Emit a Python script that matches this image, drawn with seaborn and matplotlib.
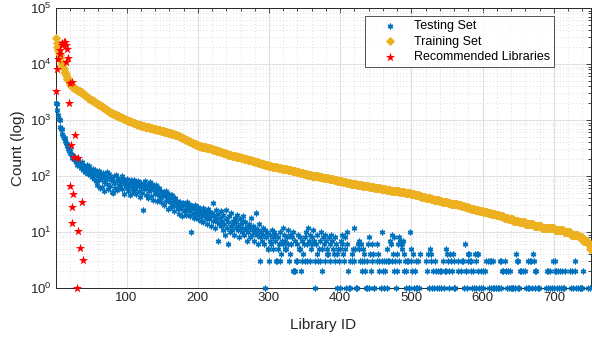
import numpy as np
import matplotlib
matplotlib.use("Agg")
import matplotlib.pyplot as plt
from matplotlib.ticker import MultipleLocator, LogLocator, NullFormatter, FixedLocator
import seaborn as sns

# Library usage counts, libraries sorted by training-set frequency (ID = rank)
train_count = [
    29500, 24000, 20000, 17800, 16000, 14500, 13000, 11500, 10300, 9500,
    8800, 8000, 7300, 6800, 6300, 5900, 5500, 5200, 4900, 4650,
    4450, 4250, 4100, 3950, 3850, 3760, 3680, 3600, 3520, 3450,
    3390, 3340, 3290, 3240, 3190, 3140, 3100,
    3030, 2960, 2890, 2820, 2750, 2690, 2620, 2560, 2500,
    2450, 2410, 2360, 2320, 2280, 2240, 2200, 2160, 2120, 2080, 2040, 2000,
    1962, 1925, 1888, 1852, 1817, 1782, 1748, 1715, 1682, 1650, 1619,
    1588, 1558, 1528, 1499, 1470, 1442, 1415, 1388, 1361, 1335, 1310,
    1292, 1275, 1258, 1241, 1225, 1208, 1192, 1176, 1160, 1145,
    1129, 1114, 1099, 1084, 1070, 1055, 1041, 1027, 1014, 1000,
    988, 977, 966, 954, 943, 932, 921, 911, 900, 890,
    879, 869, 859, 849, 839, 829, 820, 810,
    804, 798, 792, 787, 781, 775, 770, 764, 758, 753, 747, 742, 737, 731,
    726, 721, 715, 710, 705, 700, 695, 690, 685, 680, 675, 670, 665, 660,
    655, 649, 644, 638, 633, 628, 623, 617, 612, 607, 602, 597,
    592, 587, 582, 577, 573, 568, 563, 558, 554, 549, 545, 540,
    532, 525, 517, 510, 502, 495, 488, 481, 474, 467,
    460, 454, 447, 441, 434, 428, 422, 416, 410,
    405, 399, 394, 389, 384, 378, 373, 368, 364, 359, 354, 349, 345, 340,
    338, 336, 333, 331, 329, 327, 325, 323, 320, 318, 316, 314, 312, 310,
    307, 304, 301, 298, 296, 293, 290, 287, 284, 282, 279, 276, 274, 271,
    269, 266, 263, 261, 258, 256, 254, 251, 249, 246, 244, 242, 239, 237,
    235, 234, 232, 230, 228, 227, 225, 224, 222, 220, 219, 217, 215, 214,
    212, 211, 209, 208, 206, 205, 203, 202, 200, 199, 197, 196, 194, 193,
    191, 190, 188, 186, 184, 183, 181, 180, 178, 176, 175, 173, 172, 170,
    169, 167, 166, 164, 163, 161, 160, 158, 157, 155, 154, 153, 151, 150,
    149, 148, 147, 147, 146, 145, 144, 143, 143, 142, 141, 140, 139, 139,
    138, 137, 136, 136, 135, 134, 133, 132, 132, 131, 130, 130, 129, 128,
    127, 126, 125, 124, 123, 122, 122, 121, 120, 119, 118, 117, 116, 115,
    115, 114, 113, 112, 111, 110, 110, 109, 108, 107, 106, 106, 105, 104,
    103, 103, 102, 102, 101, 101, 100, 100, 99, 99, 98, 98, 97, 97,
    96, 96, 95, 95, 94, 94, 93, 93, 92, 92, 91, 91, 90, 90,
    89, 89, 88, 88, 87, 86, 86, 85, 85, 84, 83, 83, 82, 82,
    81, 80, 80, 79, 79, 78, 78, 77, 77, 76, 76, 75, 75, 74,
    74, 73, 73, 72, 72, 72, 71, 71, 71, 70, 70, 70, 69, 69,
    68, 68, 68, 67, 67, 67, 66, 66, 66, 65, 65, 65, 64, 64,
    64, 64, 63, 63, 63, 63, 62, 62, 62, 61, 61, 61, 60, 60,
    60, 59, 59, 59, 59, 58, 58, 58, 57, 57, 57, 56, 56, 56,
    56, 55, 55, 55, 55, 54, 54, 54, 54, 53, 53, 53, 53, 52, 52,
    52, 52, 51, 51, 51, 51, 50, 50, 50, 50, 49, 49, 49, 49,
    48, 48, 48, 47, 47, 47, 46, 46, 46, 45, 45, 45, 44, 44,
    44, 43, 43, 43, 42, 42, 42, 41, 41, 41, 41, 40, 40, 40,
    39, 39, 39, 39, 38, 38, 38, 38, 37, 37, 37, 37, 36, 36,
    36, 36, 35, 35, 35, 35, 34, 34, 34, 34, 33, 33, 33, 33,
    32, 32, 32, 32, 32, 31, 31, 31, 31, 31, 30, 30, 30, 30,
    30, 29, 29, 29, 29, 29, 28, 28, 28, 28, 28, 27, 27, 27,
    26, 26, 26, 26, 26, 26, 25, 25, 25, 25, 25, 25, 24, 24, 24,
    24, 24, 24, 23, 23, 23, 23, 23, 23, 22, 22, 22, 22, 22,
    21, 21, 21, 21, 21, 21, 20, 20, 20, 20, 20, 20, 19, 19,
    19, 19, 19, 19, 18, 18, 18, 18, 18, 18, 17, 17, 17, 17,
    17, 17, 17, 16, 16, 16, 16, 16, 16, 16, 16, 15, 15, 15,
    15, 15, 15, 15, 15, 15, 14, 14, 14, 14, 14, 14, 14, 14,
    14, 14, 14, 14, 13, 13, 13, 13, 13, 13, 13, 13, 13, 13,
    13, 12, 12, 12, 12, 12, 12, 12, 12, 12, 12, 12, 12,
    12, 12, 12, 12, 12, 12, 11, 11, 11, 11, 11, 11, 11, 11, 11, 11, 11, 11, 11,
    10, 10, 10, 10, 10, 10, 10, 10, 10, 10, 9, 9, 9, 9, 9, 9, 9, 9,
    9, 9, 9, 8, 8, 8, 8, 8, 8, 7, 7, 7, 7, 7,
    7, 7, 6, 6, 6, 5, 5,
]

# Testing-set counts for the same library IDs (0 = library not used)
test_count = [
    2000, 1900, 1500, 1230, 1050, 1000, 760, 700, 680, 560,
    520, 480, 470, 420, 390, 370, 340, 300, 280, 300,
    260, 250, 240, 210, 230, 200, 190, 215, 180, 175,
    160, 190, 170, 150, 165, 140, 180, 155, 130, 145,
    150, 120, 140, 160, 125, 110, 135, 150, 115, 105,
    118, 96, 135, 88, 104, 128, 82, 112, 70, 98,
    125, 86, 60, 108, 92, 64, 115, 78, 55, 102,
    88, 120, 72, 58, 95, 110, 66, 84, 52, 90,
    49, 98, 75, 62, 105, 80, 56, 92, 70, 85,
    64, 78, 100, 58, 88, 72, 48, 82, 66, 60,
    90, 54, 75, 68, 45, 84, 62, 79, 52, 70,
    86, 58, 74, 48, 66, 80, 55, 72, 42, 64,
    76, 50, 25, 68, 58, 82, 46, 62, 70, 40,
    66, 54, 78, 44, 60, 72, 38, 56, 64, 48,
    52, 68, 36, 58, 46, 62, 40, 54, 34, 50,
    44, 52, 30, 46, 55, 36, 42, 26, 40, 48,
    34, 42, 28, 46, 31, 38, 24, 40, 29, 35,
    36, 26, 32, 21, 35, 27, 30, 19, 33, 24,
    32, 25, 30, 20, 35, 28, 24, 31, 19, 26,
    10, 29, 22, 27, 18, 30, 24, 20, 26, 17,
    28, 21, 25, 16, 23, 19, 27, 15, 22, 20,
    24, 18, 14, 21, 26, 17, 23, 13, 19, 22,
    16, 33, 20, 12, 18, 25, 15, 7, 21, 14,
    18, 24, 13, 16, 11, 20, 14, 9, 17, 25,
    12, 6, 15, 19, 10, 13, 22, 11, 16, 14,
    9, 18, 12, 15, 20, 11, 13, 8, 17, 12,
    14, 10, 16, 19, 9, 12, 15, 11, 7, 13,
    10, 14, 8, 12, 18, 9, 11, 13, 7, 10,
    12, 22, 9, 6, 11, 14, 3, 8, 10, 7,
    12, 9, 6, 11, 1, 8, 10, 5, 5, 3,
    7, 9, 6, 11, 8, 5, 10, 7, 9, 3,
    3, 8, 5, 6, 3, 10, 4, 7, 12, 6,
    9, 5, 7, 5, 8, 11, 6, 3, 4, 9,
    6, 8, 10, 2, 2, 7, 2, 3, 3, 6,
    9, 5, 5, 8, 2, 3, 7, 4, 6, 3,
    8, 10, 3, 6, 12, 7, 3, 9, 5, 8,
    6, 11, 7, 1, 3, 6, 4, 9, 3, 5,
    3, 7, 10, 2, 5, 8, 6, 3, 9, 7,
    5, 4, 4, 8, 3, 6, 9, 0, 7, 5,
    4, 3, 8, 6, 4, 1, 5, 3, 1, 5,
    7, 9, 6, 4, 3, 5, 8, 1, 10, 6,
    2, 1, 3, 1, 0, 4, 3, 5, 3, 12,
    5, 1, 0, 1, 6, 5, 7, 3, 6, 3,
    2, 5, 3, 4, 2, 1, 3, 1, 6, 1,
    8, 4, 2, 6, 3, 4, 1, 1, 0, 0,
    6, 3, 4, 3, 2, 0, 1, 10, 3, 2,
    3, 1, 2, 3, 5, 1, 3, 0, 3, 7,
    6, 9, 3, 4, 8, 2, 3, 1, 2, 4,
    6, 3, 8, 7, 6, 5, 6, 7, 4, 2,
    3, 1, 2, 3, 3, 1, 1, 10, 3, 5,
    2, 4, 1, 0, 2, 1, 3, 1, 3, 0,
    1, 4, 0, 0, 0, 0, 0, 0, 0, 0,
    3, 2, 4, 1, 0, 5, 4, 3, 1, 2,
    1, 0, 3, 0, 2, 1, 2, 0, 1, 2,
    1, 2, 0, 3, 1, 0, 2, 2, 5, 4,
    3, 2, 1, 4, 0, 3, 2, 4, 3, 1,
    1, 0, 0, 0, 2, 3, 0, 0, 0, 2,
    3, 3, 0, 1, 6, 2, 2, 1, 3, 4,
    4, 3, 3, 2, 1, 0, 2, 1, 4, 1,
    3, 4, 4, 2, 1, 0, 1, 2, 0, 1,
    2, 0, 2, 0, 3, 0, 0, 3, 1, 3,
    1, 3, 0, 1, 3, 1, 0, 1, 1, 0,
    1, 0, 1, 3, 1, 3, 2, 0, 2, 0,
    3, 2, 2, 1, 0, 2, 1, 2, 0, 1,
    1, 0, 1, 0, 1, 0, 4, 3, 1, 3,
    1, 2, 0, 2, 0, 0, 2, 0, 2, 0,
    1, 0, 1, 3, 1, 3, 0, 3, 1, 0,
    4, 3, 2, 1, 2, 0, 1, 0, 1, 0,
    0, 0, 0, 0, 0, 0, 0, 0, 1, 2,
    1, 2, 0, 2, 1, 0, 1, 0, 3, 1,
    3, 2, 2, 1, 0, 2, 1, 2, 0, 1,
    2, 1, 0, 1, 2, 0, 0, 0, 0, 0,
    0, 2, 0, 1, 2, 0, 1, 0, 3, 2,
    1, 0, 0, 1, 0, 1, 0, 1, 0, 1,
    2, 0, 0, 0, 0, 0, 0, 1, 0, 0,
    1, 0,
]

# Recommended libraries: (library ID, count)
rec_id = [1, 3, 4, 6, 7, 9, 10, 12, 13, 15, 16, 15, 18, 20, 23, 19,
          27, 22, 26, 32, 21, 25, 24, 38, 23, 32, 35, 39, 31]
rec_count = [3300, 8300, 12500, 15000, 17800, 21500, 23300, 24500, 24800,
             21900, 18600, 11000, 12800, 4500, 4800, 2050,
             540, 360, 215, 210, 66, 47, 27.5, 34, 14.5, 10.3, 5.2, 3.1, 1.0]

series_labels = ["Testing Set", "Training Set", "Recommended Libraries"]
series_colors = ["#0072BD", "#EDB120", "#FF0000"]

sns.set_style("white")
plt.rcParams["font.family"] = ["Liberation Sans", "DejaVu Sans"]
plt.rcParams["mathtext.default"] = "regular"

ink = "#262626"

fig = plt.figure(figsize=(5.92, 3.44), dpi=100)
ax = fig.add_axes([56 / 592, 1 - 288 / 344, 535 / 592, 280 / 344])

train_x = np.arange(1, len(train_count) + 1)
test_arr = np.array(test_count, dtype=float)
test_x = np.arange(1, len(test_arr) + 1)
keep = test_arr > 0

sns.scatterplot(x=test_x[keep], y=test_arr[keep], ax=ax, marker=(6, 2, 0),
                color=series_colors[0], s=11, linewidth=1.0,
                label=series_labels[0], clip_on=False, zorder=3)
sns.scatterplot(x=train_x, y=np.array(train_count, dtype=float), ax=ax,
                marker="D", color=series_colors[1], s=22, linewidth=0,
                label=series_labels[1], clip_on=False, zorder=4)
sns.scatterplot(x=np.array(rec_id), y=np.array(rec_count), ax=ax,
                marker="*", color=series_colors[2], s=48, linewidth=0,
                label=series_labels[2], clip_on=False, zorder=5)

ax.set_yscale("log")
ax.set_ylim(1, 1e5)
ax.set_xlim(1, 752)

ax.xaxis.set_major_locator(FixedLocator([100, 200, 300, 400, 500, 600, 700]))
ax.xaxis.set_minor_locator(MultipleLocator(20))
ax.yaxis.set_major_locator(LogLocator(base=10, numticks=10))
ax.yaxis.set_minor_locator(LogLocator(base=10, subs=np.arange(2, 10), numticks=20))
ax.yaxis.set_minor_formatter(NullFormatter())

ax.grid(which="major", color="#e1e1e1", linewidth=0.8, linestyle="-")
ax.grid(which="minor", color="#d2d2d2", linewidth=0.6, linestyle=(0, (1, 3)))
ax.set_axisbelow(True)

for sp in ax.spines.values():
    sp.set_visible(True)
    sp.set_color(ink)
    sp.set_linewidth(0.7)

ax.tick_params(which="both", direction="in", top=True, right=True,
               color=ink, width=0.6)
ax.tick_params(which="major", length=3.5, labelsize=9.5, labelcolor=ink, pad=3)
ax.tick_params(which="minor", length=2)

ax.set_xlabel("Library ID", fontsize=11, color=ink, labelpad=10)
ax.set_ylabel("Count (log)", fontsize=11, color=ink, labelpad=4)

leg = ax.legend(loc="upper right", bbox_to_anchor=(0.931, 0.971),
                fontsize=9, frameon=True, fancybox=False, borderpad=0.3,
                handlelength=3.3, handletextpad=0.3, labelspacing=0.3,
                borderaxespad=0.0, markerscale=1.0)
leg.get_frame().set_edgecolor(ink)
leg.get_frame().set_linewidth(0.7)
for t in leg.get_texts():
    t.set_color("#000000")

fig.savefig("out.png", dpi=100)
